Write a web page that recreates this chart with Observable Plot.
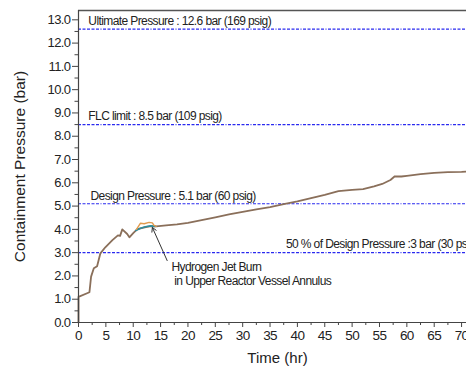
<!DOCTYPE html>
<html>
<head>
<meta charset="utf-8">
<script src="https://cdn.jsdelivr.net/npm/d3@7"></script>
<script src="https://cdn.jsdelivr.net/npm/@observablehq/plot@0.6"></script>
<style>
  html, body { margin: 0; padding: 0; background: #fff; }
  #chart svg { display: block; }
</style>
</head>
<body>
<div id="chart"></div>
<script>
// Containment pressure history (bar) versus time (hr)
const timeHr = [0, 0, 2.0, 2.3, 2.8, 3.4, 4.0, 4.9, 6.2, 7.2, 7.6, 8.0, 8.9, 9.3, 10.0, 10.7,
  11.5, 12.5, 13.3, 14.2, 16, 18, 20, 22.5, 25, 27.5, 30, 32.5, 35, 37.5, 40, 42.5, 45,
  47.5, 50, 52, 54, 55.5, 57, 57.8, 59, 60, 62.5, 65, 67.5, 70, 71];
const pressureBar = [0, 1.1, 1.3, 1.97, 2.33, 2.42, 2.97, 3.23, 3.54, 3.74, 3.72, 4.0, 3.8, 3.66, 3.84, 4.0,
  4.05, 4.11, 4.14, 4.13, 4.17, 4.21, 4.28, 4.4, 4.52, 4.64, 4.75, 4.86, 4.96, 5.08, 5.2, 5.34, 5.48,
  5.64, 5.7, 5.73, 5.85, 5.95, 6.12, 6.28, 6.27, 6.3, 6.37, 6.43, 6.46, 6.47, 6.48];

// Case without the burn, around the event window
const noBurnTime = [10.5, 11.2, 12.2, 13.2, 14.0];
const noBurnPressure = [3.95, 4.04, 4.11, 4.15, 4.13];

// Case with hydrogen jet burn in the upper reactor vessel annulus
const burnTime = [10.6, 11.3, 12.0, 12.9, 13.5, 13.8, 14.2];
const burnPressure = [4.0, 4.26, 4.24, 4.3, 4.28, 4.17, 4.13];

// Reference pressure levels
const limitValues = [12.6, 8.5, 5.1, 3.0];
const limitLabels = [
  "Ultimate Pressure : 12.6 bar (169 psig)",
  "FLC limit : 8.5 bar (109 psig)",
  "Design Pressure : 5.1 bar (60 psig)",
  "50 % of Design Pressure :3 bar (30 psig)"
];

const yTicks = d3.range(0, 13.01, 1);
const yMinor = d3.range(0.5, 13.4, 1);
const xTicks = d3.range(0, 71, 5);
const xMinor = d3.range(2.5, 71, 5);

const annotation = ["Hydrogen Jet Burn", " in Upper Reactor Vessel Annulus"];
const yTitle = "Containment Pressure (bar)";
const xTitle = "Time (hr)";

// Build tables for the marks
const mainSeries = timeHr.map((t, i) => ({t, p: pressureBar[i]}));
const noBurn = noBurnTime.map((t, i) => ({t, p: noBurnPressure[i]}));
const burn = burnTime.map((t, i) => ({t, p: burnPressure[i]}));
const labelStart = [1.8, 1.8, 2.2, 37.9];
const limits = limitValues.map((v, i) => ({v, label: limitLabels[i], x: labelStart[i]}));

const FONT = "'Liberation Sans', Arial, Helvetica, sans-serif";
const XMAX = 70.9, YMAX = 13.4;
const dash = "3,1.5,3,1.5,3,1.5,3,1.5,3,1.5,1,1.5";

const chart = Plot.plot({
  width: 466,
  height: 370,
  marginLeft: 78,
  marginRight: 0,
  marginTop: 10,
  marginBottom: 48,
  style: {fontFamily: FONT, color: "#222", background: "#fff"},
  x: {domain: [0, XMAX]},
  y: {domain: [0, YMAX]},
  marks: [
    // dashed reference levels
    Plot.ruleY(limits, {y: "v", stroke: "#2a2af0", strokeWidth: 1.1, strokeDasharray: dash}),
    Plot.text(limits, {x: "x", y: "v", text: "label", textAnchor: "start", dy: -8,
      fontSize: 12, fill: "#222"}),

    // pressure curves
    Plot.line(mainSeries, {x: "t", y: "p", stroke: "#8a6f5a", strokeWidth: 1.8}),
    Plot.line(noBurn, {x: "t", y: "p", stroke: "#2f8d9c", strokeWidth: 1.6}),
    Plot.line(burn, {x: "t", y: "p", stroke: "#e29a4c", strokeWidth: 1.4}),

    // annotation
    Plot.arrow([{x1: 16.2, y1: 2.66, x2: 13.5, y2: 4.08}], {x1: "x1", y1: "y1", x2: "x2", y2: "y2",
      stroke: "#333", strokeWidth: 1, headLength: 7, bend: false}),
    Plot.text([annotation.join("\n")], {x: 17.0, y: 2.66, text: d => d, textAnchor: "start",
      lineAnchor: "top", fontSize: 12, lineHeight: 1.2, fill: "#222"}),

    // frame
    Plot.ruleY([YMAX], {stroke: "#555", strokeWidth: 1.5}),
    Plot.ruleX([0], {stroke: "#444", strokeWidth: 1.2}),
    Plot.ruleY([0], {stroke: "#444", strokeWidth: 1.2}),

    // axes
    Plot.axisY({ticks: yTicks, tickFormat: d3.format(".1f"), tickSize: 6, tickPadding: 2,
      fontSize: 13, label: null, stroke: "#444"}),
    Plot.axisY({ticks: yMinor, tickSize: 3.5, text: null, label: null, stroke: "#444"}),
    Plot.axisX({ticks: xTicks, tickSize: 5, tickPadding: 3, fontSize: 13.5, label: null, stroke: "#444"}),
    Plot.axisX({ticks: xMinor, tickSize: 3, text: null, label: null, stroke: "#444"}),

    // axis titles
    Plot.text([yTitle], {frameAnchor: "left", textAnchor: "middle", rotate: -90,
      dx: -58, fontSize: 15.5, fill: "#222"}),
    Plot.text([xTitle], {frameAnchor: "bottom", textAnchor: "middle", dx: 5, dy: 40,
      fontSize: 15, fill: "#222"})
  ]
});

// tighter spacing for the small labels (axis titles keep normal spacing)
d3.select(chart).selectAll("text").each(function () {
  const s = this.textContent;
  if (s === yTitle || s === xTitle) return;
  this.setAttribute("letter-spacing", "-0.6");
});

document.getElementById("chart").appendChild(chart);
</script>
</body>
</html>
